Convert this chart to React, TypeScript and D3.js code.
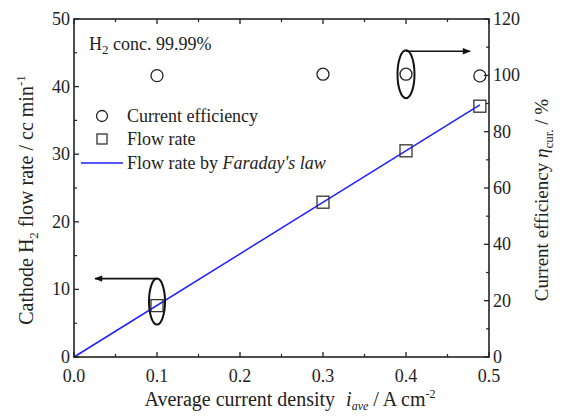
import React from 'react';
import * as d3 from 'd3';

// values
const densities = [0.1, 0.3, 0.4, 0.489];
const efficiency = [99.9, 100.4, 100.4, 99.8];
const flowRate = [7.6, 22.9, 30.5, 37.1];
const faradayX = [0, 0.489];
const faradayY = [0, 37.3];
const xTicks = [0, 0.1, 0.2, 0.3, 0.4, 0.5];
const leftTicks = [0, 10, 20, 30, 40, 50];
const rightTicks = [0, 20, 40, 60, 80, 100, 120];

const W = 564, H = 416;
const m = { left: 74, right: 489, top: 19, bottom: 357 };
const font = '"Liberation Serif", "Times New Roman", serif';

export default function App() {
  const x = d3.scaleLinear().domain([0, 0.5]).range([m.left, m.right]);
  const yL = d3.scaleLinear().domain([0, 50]).range([m.bottom, m.top]);
  const yR = d3.scaleLinear().domain([0, 120]).range([m.bottom, m.top]);
  const line = d3.line<number>().x((_, i) => x(faradayX[i])).y(d => yL(d));

  const xMinor = d3.range(0.05, 0.5, 0.1);
  const lMinor = d3.range(5, 50, 10);
  const rMinor = d3.range(10, 120, 20);
  const tk = 5, tm = 3;

  // annotation ellipses around the 0.1 flow point and 0.4 efficiency point
  const e1 = { cx: x(0.1), cy: yL(flowRate[0]) - 4 };
  const e2 = { cx: x(0.4), cy: yR(efficiency[2]) };

  return (
    <svg width={W} height={H} style={{ position: 'absolute', left: 0, top: 0, background: '#fff' }} fontFamily={font}>
      <defs>
        <marker id="ah" viewBox="0 0 10 10" refX="9" refY="5" markerWidth="7" markerHeight="5" orient="auto">
          <path d="M0,1 L10,5 L0,9 Z" fill="#111" />
        </marker>
      </defs>

      {/* Faraday line */}
      <path d={line(faradayY) || ''} fill="none" stroke="#1f1fff" strokeWidth={1.5} />

      {/* axes frame */}
      <rect x={m.left} y={m.top} width={m.right - m.left} height={m.bottom - m.top} fill="none" stroke="#222" strokeWidth={1.6} />

      {/* x ticks bottom and top */}
      {xTicks.map(t => (
        <g key={'x' + t}>
          <line x1={x(t)} x2={x(t)} y1={m.bottom} y2={m.bottom - tk} stroke="#222" strokeWidth={1.3} />
          <line x1={x(t)} x2={x(t)} y1={m.top} y2={m.top + tk} stroke="#222" strokeWidth={1.3} />
          <text x={x(t)} y={m.bottom + 25} textAnchor="middle" fontSize={18} fill="#222">{t.toFixed(1)}</text>
        </g>
      ))}
      {xMinor.map(t => (
        <g key={'xm' + t}>
          <line x1={x(t)} x2={x(t)} y1={m.bottom} y2={m.bottom - tm} stroke="#222" strokeWidth={1.2} />
          <line x1={x(t)} x2={x(t)} y1={m.top} y2={m.top + tm} stroke="#222" strokeWidth={1.2} />
        </g>
      ))}

      {/* left ticks */}
      {leftTicks.map(t => (
        <g key={'l' + t}>
          <line x1={m.left} x2={m.left + tk} y1={yL(t)} y2={yL(t)} stroke="#222" strokeWidth={1.3} />
          <text x={m.left - 4} y={yL(t) + 6} textAnchor="end" fontSize={18} fill="#222">{t}</text>
        </g>
      ))}
      {lMinor.map(t => (
        <line key={'lm' + t} x1={m.left} x2={m.left + tm} y1={yL(t)} y2={yL(t)} stroke="#222" strokeWidth={1.2} />
      ))}

      {/* right ticks */}
      {rightTicks.map(t => (
        <g key={'r' + t}>
          <line x1={m.right} x2={m.right - tk} y1={yR(t)} y2={yR(t)} stroke="#222" strokeWidth={1.3} />
          <text x={m.right + 4} y={yR(t) + 6} textAnchor="start" fontSize={18} fill="#222">{t}</text>
        </g>
      ))}
      {rMinor.map(t => (
        <line key={'rm' + t} x1={m.right} x2={m.right - tm} y1={yR(t)} y2={yR(t)} stroke="#222" strokeWidth={1.2} />
      ))}

      {/* efficiency circles */}
      {densities.map((d, i) => (
        <circle key={'c' + i} cx={x(d)} cy={yR(efficiency[i])} r={6} fill="none" stroke="#222" strokeWidth={1.3} />
      ))}
      {/* flow squares */}
      {densities.map((d, i) => (
        <rect key={'s' + i} x={x(d) - 6} y={yL(flowRate[i]) - 6} width={12} height={12} fill="none" stroke="#333" strokeWidth={1.3} />
      ))}

      {/* annotations */}
      <ellipse cx={e1.cx} cy={e1.cy} rx={8} ry={23} fill="none" stroke="#111" strokeWidth={2} />
      <line x1={e1.cx} x2={95} y1={e1.cy - 23} y2={e1.cy - 23} stroke="#111" strokeWidth={1.6} markerEnd="url(#ah)" />
      <ellipse cx={e2.cx} cy={e2.cy} rx={8.5} ry={24} fill="none" stroke="#111" strokeWidth={2} />
      <line x1={e2.cx} x2={470} y1={e2.cy - 23} y2={e2.cy - 23} stroke="#111" strokeWidth={1.6} markerEnd="url(#ah)" />

      {/* H2 conc. label */}
      <text x={89} y={50} fontSize={18} fill="#222">
        H<tspan dy={4} fontSize={13}>2</tspan><tspan dy={-4}> conc. 99.99%</tspan>
      </text>

      {/* legend */}
      <circle cx={102} cy={116} r={5.5} fill="none" stroke="#222" strokeWidth={1.3} />
      <text x={127} y={122} fontSize={18} fill="#222">Current efficiency</text>
      <rect x={97} y={134} width={10} height={10} fill="none" stroke="#333" strokeWidth={1.3} />
      <text x={127} y={145} fontSize={18} fill="#222">Flow rate</text>
      <line x1={81} x2={123} y1={163} y2={163} stroke="#1f1fff" strokeWidth={1.5} />
      <text x={127} y={169} fontSize={18} fill="#222">Flow rate by <tspan fontStyle="italic">Faraday's law</tspan></text>

      {/* axis titles */}
      <text x={290} y={406} textAnchor="middle" fontSize={20} fill="#222">
        Average current density <tspan dx={6} fontStyle="italic">i</tspan><tspan fontStyle="italic" fontSize={12} dy={4}>ave</tspan>
        <tspan dy={-4}> / A cm</tspan><tspan fontSize={12} dy={-8}>-2</tspan>
      </text>
      <text transform={`translate(33,${(m.top + m.bottom) / 2 + 12}) rotate(-90)`} textAnchor="middle" fontSize={20} fill="#222">
        Cathode H<tspan fontSize={13} dy={5}>2</tspan><tspan dy={-5}> flow rate / cc min</tspan><tspan fontSize={13} dy={-8}>-1</tspan>
      </text>
      <text transform={`translate(548,${(m.top + m.bottom) / 2 + 12}) rotate(-90)`} textAnchor="middle" fontSize={19} fill="#222">
        Current efficiency <tspan fontStyle="italic">η</tspan><tspan fontSize={13} dy={5}>cur.</tspan><tspan dy={-5}> / %</tspan>
      </text>
    </svg>
  );
}
